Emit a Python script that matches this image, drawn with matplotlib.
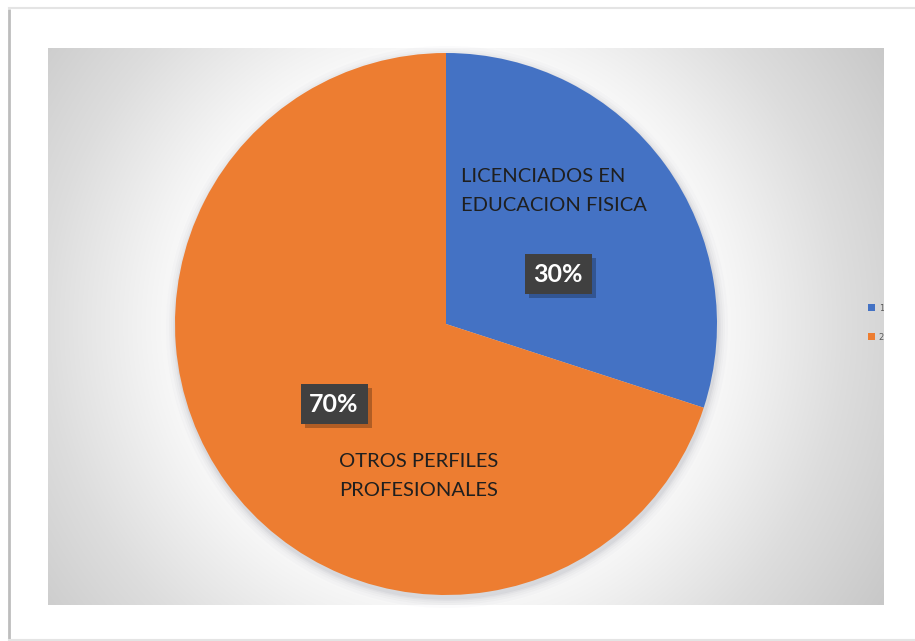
import numpy as np
import matplotlib
matplotlib.use("Agg")
import matplotlib.pyplot as plt
from matplotlib.patches import Rectangle, Circle, Patch
import matplotlib.patheffects as pe

# ---- data ----
categories = ["LICENCIADOS EN\nEDUCACION FISICA", "OTROS PERFILES\nPROFESIONALES"]
values = [30, 70]
legend_labels = ["1", "2"]
colors = ["#4472C4", "#ED7D31"]

W, H = 915, 641
fig = plt.figure(figsize=(W / 100, H / 100), dpi=100)
fig.patch.set_facecolor("white")

# background axes in pixel coordinates
bg = fig.add_axes([0, 0, 1, 1], zorder=0)
bg.axis("off")

# plot-area radial gradient
x0, x1, y0, y1 = 48, 884, 48, 605
cx, cy, R = 446, 324, 271
xx, yy = np.meshgrid(np.arange(x0, x1) + 0.5, np.arange(y0, y1) + 0.5)
d = np.hypot(xx - cx, yy - cy)
v = np.interp(d, [0, 270, 300, 400, 520], [252, 249, 243, 221, 200]) / 255.0
img = np.dstack([v, v, v])
bg.imshow(img, extent=[x0, x1, y1, y0], interpolation="bilinear", zorder=1)
bg.set_xlim(0, W)
bg.set_ylim(H, 0)

# outer frame shadow lines
bg.plot([8.5, 8.5], [9, 640], color="#bdbdbd", lw=2.0, zorder=2, solid_capstyle="butt")
bg.plot([9, W], [7.5, 7.5], color="#e4e4e4", lw=1.5, zorder=2)
bg.plot([9, W], [639.5, 639.5], color="#e4e4e4", lw=1.5, zorder=2)

# soft shadow under the pie
for k, a in [(10, 0.025), (7, 0.035), (5, 0.045), (3, 0.06), (1.5, 0.08)]:
    bg.add_patch(Circle((cx + 1, cy + 3), R + k, facecolor="#6a7080",
                        edgecolor="none", alpha=a, zorder=3))

# pie axes
pax = fig.add_axes([(cx - R) / W, (H - cy - R) / H, 2 * R / W, 2 * R / H], zorder=1)
pax.pie(values, colors=colors, startangle=90, counterclock=False,
        radius=1.0, wedgeprops=dict(linewidth=0))
pax.set_xlim(-1, 1)
pax.set_ylim(-1, 1)
pax.set_aspect("equal")
pax.axis("off")

# overlay axes for labels
ov = fig.add_axes([0, 0, 1, 1], zorder=2)
ov.set_xlim(0, W)
ov.set_ylim(H, 0)
ov.axis("off")
ov.patch.set_alpha(0)

font = "Lato"
txtcol = "#1f1f1f"
ov.text(461, 191, categories[0], ha="left", va="center", fontsize=14.5,
        family=font, color=txtcol, linespacing=1.85)
ov.text(339, 476, categories[1], ha="left", va="center", fontsize=14.5,
        family=font, color=txtcol, linespacing=1.85)

pct_pos = [(558, 274), (334, 404)]
for (px, py), val in zip(pct_pos, values):
    t = ov.text(px, py, f"{val}%", ha="center", va="center", fontsize=18,
                weight="bold", family=font, color="white",
                bbox=dict(boxstyle="square,pad=0.35", facecolor="#404040",
                          edgecolor="none"))
    t.get_bbox_patch().set_path_effects([
        pe.SimplePatchShadow(offset=(3, -3), shadow_rgbFace="black", alpha=0.25),
        pe.Normal()])

# legend (clipped by the right white margin)
handles = [Patch(facecolor=c, edgecolor="none") for c in colors]
fig.legend(handles, legend_labels, loc="upper left",
           bbox_to_anchor=(862 / W, 1 - 298 / H), frameon=False,
           fontsize=6, handlelength=0.9, handleheight=0.9, handletextpad=0.4,
           labelspacing=2.4, borderpad=0.2, labelcolor="#595959")

# white margin at right covering anything past the plot area
fig.patches.append(Rectangle((x1 / W, 12 / H), 1 - x1 / W, 617 / H,
                             transform=fig.transFigure,
                             facecolor="white", edgecolor="none", zorder=20))

fig.savefig("out.png", dpi=100, facecolor="white")
